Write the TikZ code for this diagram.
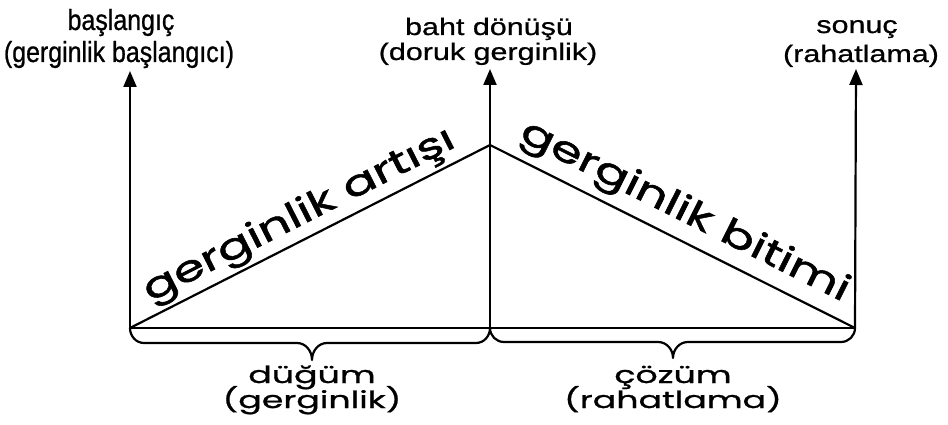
\documentclass[tikz,border=0pt]{standalone}
\usepackage{fontspec}
\setmainfont{Liberation Sans}
\newfontfamily\geo{Poppins}[FakeStretch=1.48,FakeBold=1.0]
\newfontfamily\geobig{Poppins}[FakeStretch=1.38,FakeBold=1.5]
\newfontfamily\widesans{Liberation Sans}[FakeStretch=1.27,FakeBold=0.8]
\newfontfamily\narrowsans{Liberation Sans}[FakeStretch=0.86,FakeBold=0.8]
\usetikzlibrary{arrows.meta}
\begin{document}
\begin{tikzpicture}[x=1pt,y=-1pt,line width=2.2pt,
  axis/.style={-{Triangle[length=16pt,width=13pt]}},
  lineA/.style={anchor=base,inner sep=0pt,font=\narrowsans\fontsize{29}{32}\selectfont},
  lineW/.style={anchor=base,inner sep=0pt,font=\widesans\fontsize{24}{26}\selectfont},
  botlbl/.style={anchor=base,inner sep=0pt,font=\geo\fontsize{23.5}{24}\selectfont},
  bigtxt/.style={font=\geobig\fontsize{36}{36}\selectfont,inner sep=3pt,anchor=south,sloped},
  brace/.style={line join=round}]
\useasboundingbox (0,0) rectangle (948,425);
% base points and peak
\coordinate (A) at (130,328);
\coordinate (M) at (490,328);
\coordinate (B) at (855,328);
\coordinate (P) at (490,145);
\coordinate (TA) at (130,71);
\coordinate (TM) at (490,69);
\coordinate (TB) at (856,69);
% labels at top
\node[lineA] (la1) at (121,30) {başlangıç};
\node[lineA] (la2) at (119,62) {(gerginlik başlangıcı)};
\node[lineW] (lm1) at (489,35) {baht dönüşü};
\node[lineW] (lm2) at (488,60) {(doruk gerginlik)};
\node[lineW] (lr1) at (857,33) {sonuç};
\node[lineW] (lr2) at (861,62) {(rahatlama)};
% axes
\draw[axis] (A) -- (TA);
\draw[axis] (M) -- (TM);
\draw[axis] (B) -- (TB);
% triangle
\draw[line join=round] (A) -- (P) -- (B);
\draw (A) -- (B);
% big sloped texts
\path (A) -- (P) node[bigtxt,midway] (t1) {gerginlik artışı};
\path (P) -- (B) node[bigtxt,midway,inner sep=7pt] (t2) {gerginlik bitimi};
% braces
\draw[brace] (A) to[out=-90,in=180] (144,343) -- (297,343) to[out=0,in=90] (312,360)
  to[out=90,in=180] (327,343) -- (476,343) to[out=0,in=-90] (M);
\draw[brace] (M) to[out=-90,in=180] (504,342) -- (658,342) to[out=0,in=90] (673,358)
  to[out=90,in=180] (688,342) -- (841,342) to[out=0,in=-90] (B);
% bottom labels
\node[botlbl] (ld1) at (312,383) {düğüm};
\node[botlbl] (ld2) at (312,408) {(gerginlik)};
\node[botlbl] (lc1) at (673,383) {çözüm};
\node[botlbl] (lc2) at (673,408) {(rahatlama)};
\end{tikzpicture}
\end{document}
